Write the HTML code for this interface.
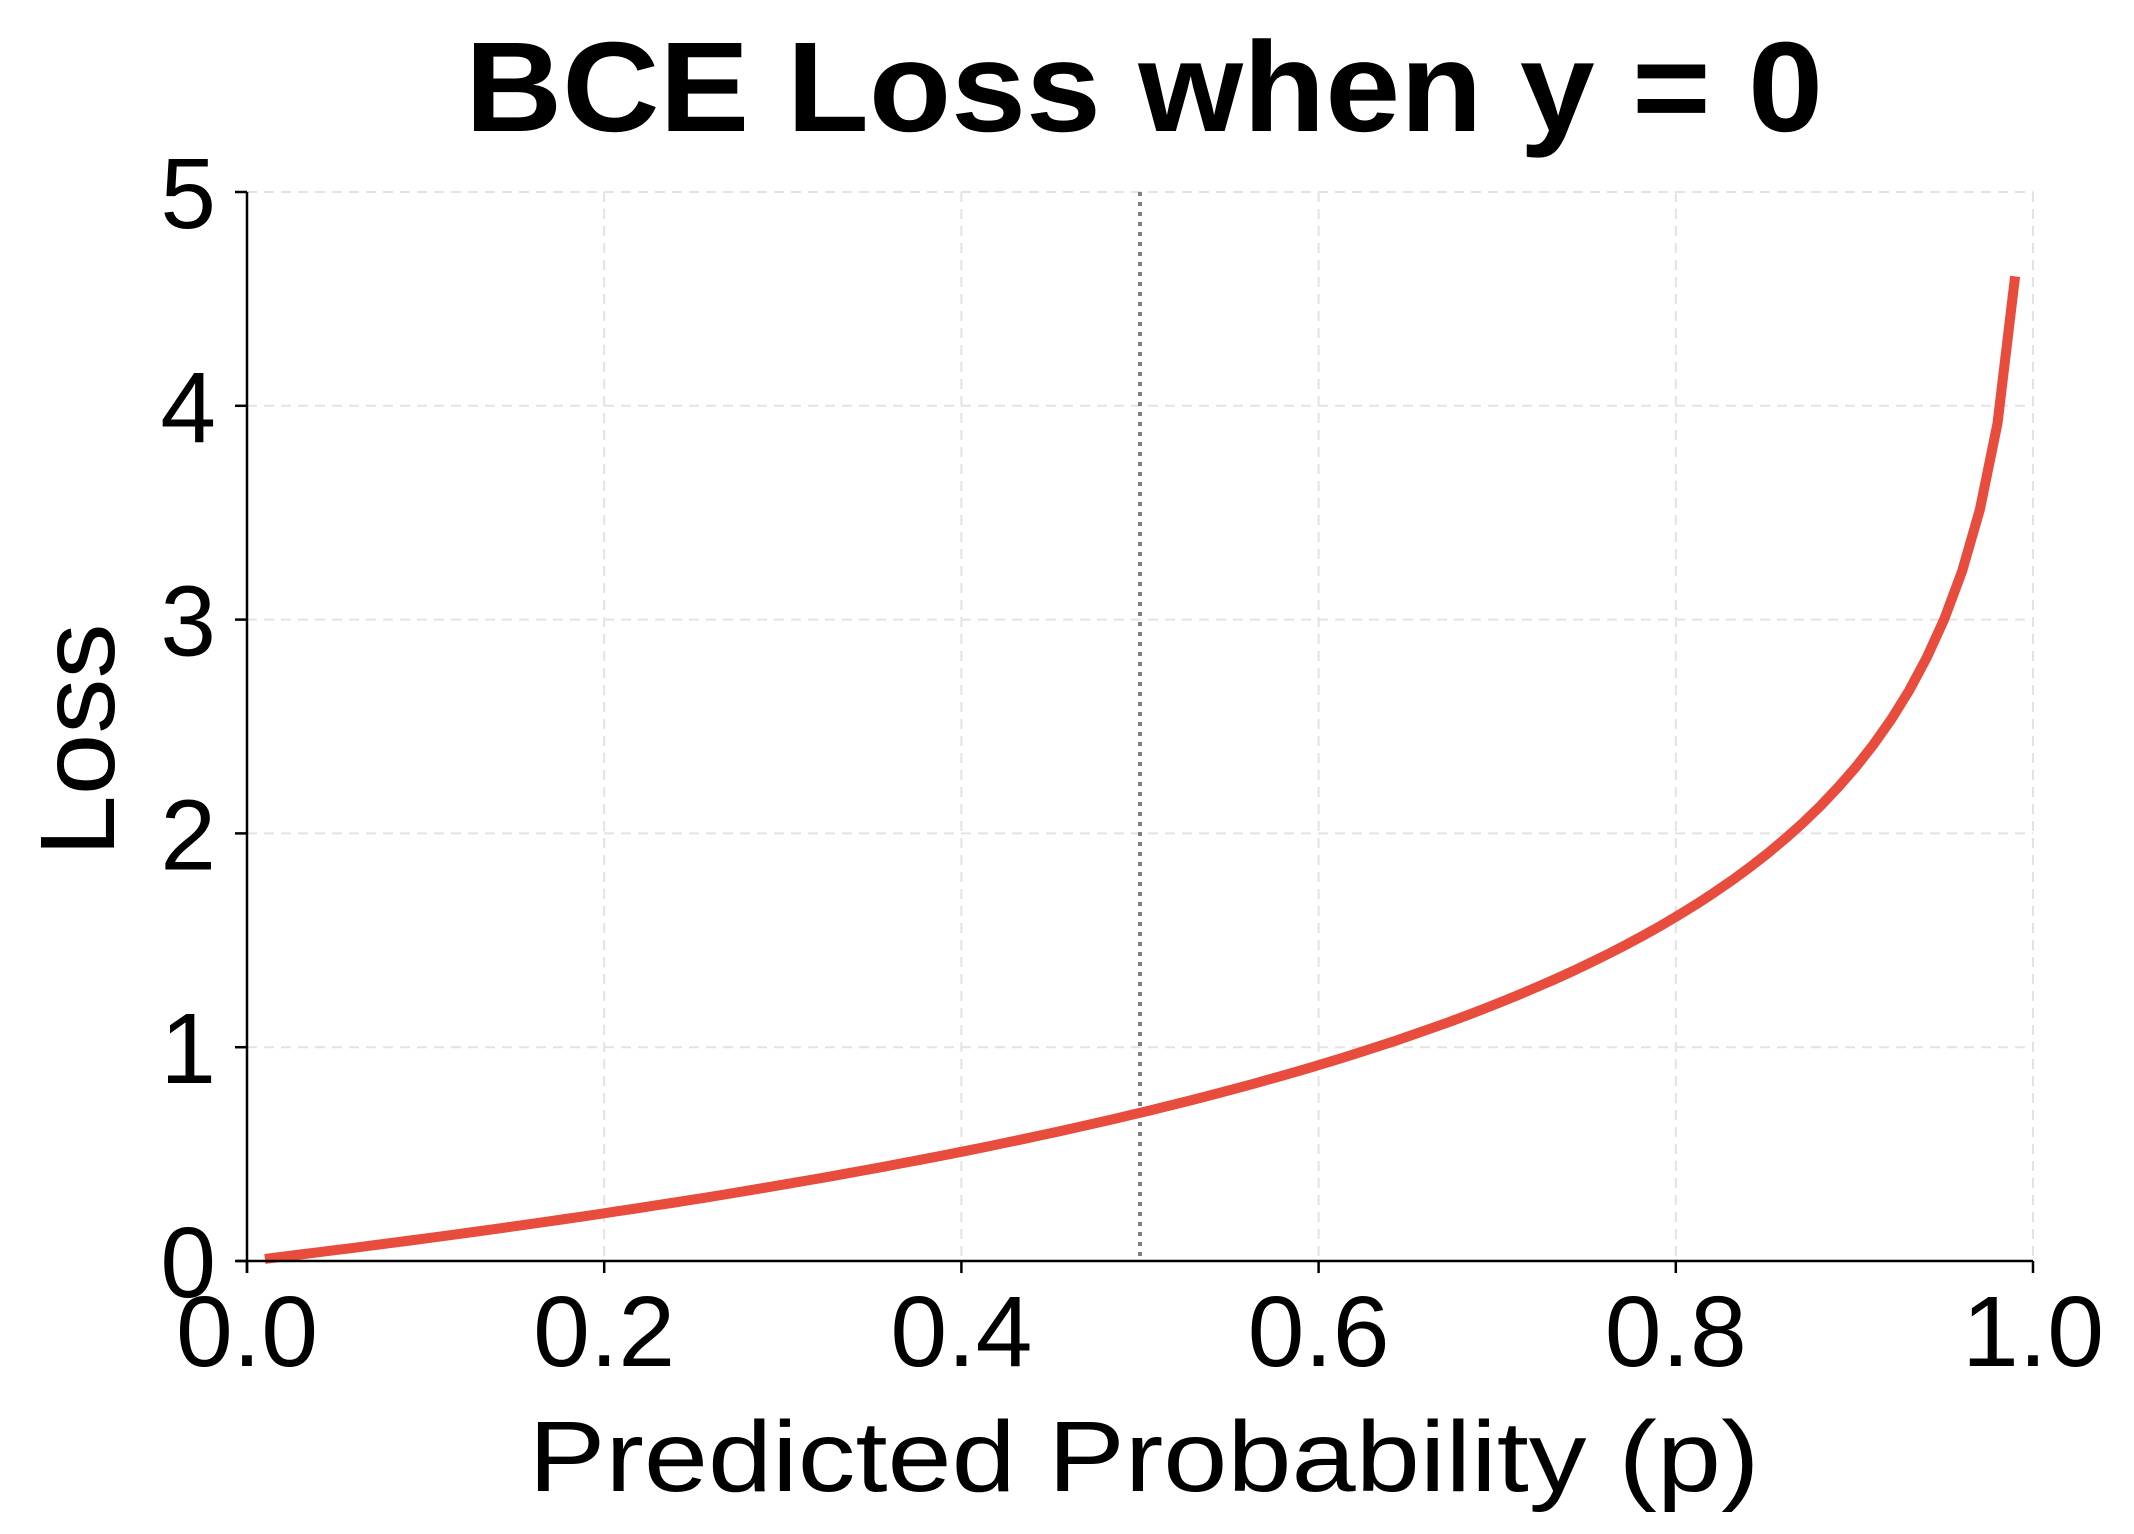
<!DOCTYPE html>
<html><head><meta charset="utf-8"><style>
html,body{margin:0;padding:0;background:#fff;}
svg{display:block;}
text{font-family:"Liberation Sans","DejaVu Sans",sans-serif;fill:#000;}
</style></head><body>
<svg id="s" width="2134" height="1534" viewBox="0 0 2134 1534" xmlns="http://www.w3.org/2000/svg">
<text x="1144" y="131" font-size="128" font-weight="bold" text-anchor="middle" textLength="1358" lengthAdjust="spacingAndGlyphs">BCE Loss when y = 0</text>
<g id="grid" stroke="#e3e3e3" stroke-width="2" stroke-dasharray="10,7"></g>
<line x1="1140" y1="192" x2="1140" y2="1261" stroke="#808080" stroke-width="4" stroke-dasharray="4,6"/>
<path id="curve" fill="none" stroke="#e74c3c" stroke-width="10" stroke-linejoin="round"/>
<g stroke="#000" stroke-width="2.5">
<line x1="247" y1="192" x2="247" y2="1273"/>
<line x1="236" y1="1261" x2="2033" y2="1261"/>
</g>
<g id="ticks" stroke="#000" stroke-width="2.5"></g>
<g id="labels" font-size="100"></g>
<text x="1144" y="1491" font-size="100" text-anchor="middle" textLength="1231" lengthAdjust="spacingAndGlyphs">Predicted Probability (p)</text>
<text transform="translate(114,740) rotate(-90)" font-size="106" text-anchor="middle" textLength="233" lengthAdjust="spacingAndGlyphs">Loss</text>
</svg>
<script>
var L=247,R=2033,T=192,B=1261,ns="http://www.w3.org/2000/svg";
function X(p){return L+(R-L)*p;}function Y(v){return B-(B-T)*v/5;}
var g=document.getElementById('grid'),tk=document.getElementById('ticks'),lb=document.getElementById('labels');
function el(par,tag,a,txt){var e=document.createElementNS(ns,tag);for(var k in a)e.setAttribute(k,a[k]);if(txt!==undefined)e.textContent=txt;par.appendChild(e);}
for(var i=0;i<=5;i++){var p=i/5,x=X(p);
 el(g,'line',{x1:x,y1:T,x2:x,y2:B});
 el(tk,'line',{x1:x,y1:B,x2:x,y2:B+12});
 el(lb,'text',{x:x,y:1366,'text-anchor':'middle',textLength:142,lengthAdjust:'spacingAndGlyphs'},p.toFixed(1));}
for(var v=0;v<=5;v++){var y=Y(v);
 el(g,'line',{x1:L,y1:y,x2:R,y2:y});
 el(tk,'line',{x1:L-12,y1:y,x2:L,y2:y});
 el(lb,'text',{x:216,y:y+36,'text-anchor':'end'},String(v));}
var d='';for(var i=0;i<100;i++){var p=0.01+0.98*i/99;var v=-Math.log(1-p);d+=(i?'L':'M')+X(p).toFixed(1)+','+Y(v).toFixed(1);}
document.getElementById('curve').setAttribute('d',d);
</script>
</body></html>
